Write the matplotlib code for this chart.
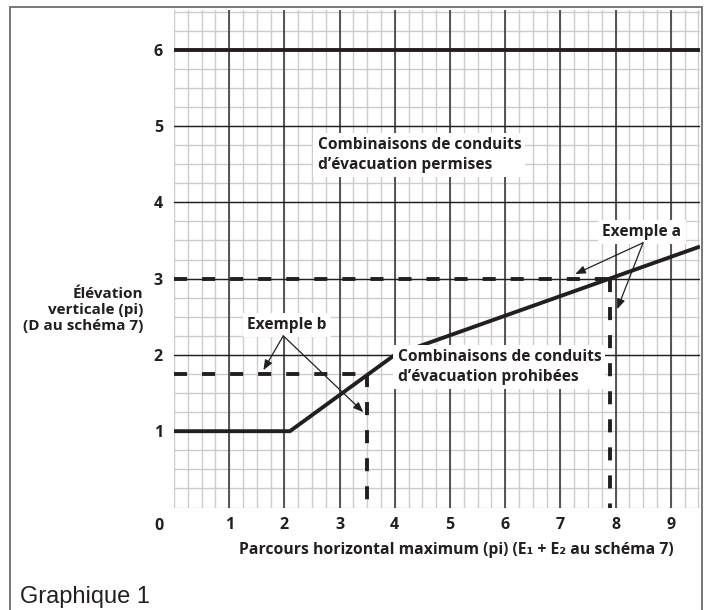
import matplotlib.pyplot as plt
from matplotlib.patches import Rectangle

plt.rcParams['font.family'] = ['Open Sans', 'DejaVu Sans']
plt.rcParams['lines.scale_dashes'] = False

# courbe limite (parcours horizontal -> élévation verticale)
courbe_x = [0, 2.1, 4, 9.53]
courbe_y = [1, 1, 2, 3.42]
limite_haute = 6

# exemples
exemple_a = (7.9, 3.0)
exemple_b = (3.5, 1.75)

x_ticks = [1, 2, 3, 4, 5, 6, 7, 8, 9]
y_ticks = [1, 2, 3, 4, 5, 6]

encre = '#231f20'

fig = plt.figure(figsize=(7.04, 6.10), dpi=100)
ax = fig.add_axes([174 / 704, 102.5 / 610, 526 / 704, 497.5 / 610])
ax.set_xlim(0, 9.53)
ax.set_ylim(0, 6.52)

# quadrillage fin
for v in [i * 0.25 for i in range(0, 39)]:
    ax.axvline(v, color='#cccccc', lw=1.0, zorder=0)
for v in [i * 0.25 for i in range(0, 27)]:
    ax.axhline(v, color='#cccccc', lw=1.0, zorder=0)
# lignes principales
for v in x_ticks:
    ax.axvline(v, color='#3c3c3c', lw=1.2, zorder=1)
for v in [2, 3, 4, 5]:
    ax.axhline(v, color=encre, lw=1.0, zorder=1)

ax.axhline(limite_haute, color=encre, lw=2.8, zorder=3)
ax.plot(courbe_x, courbe_y, color=encre, lw=2.8, zorder=3, solid_capstyle='butt')

# lignes pointillées des exemples
dash = (9.4, 10.8)
for ex, ey in [exemple_a, exemple_b]:
    ax.plot([0, ex], [ey, ey], color=encre, lw=2.8, dashes=dash, zorder=2)
    ax.plot([ex, ex], [ey, 0], color=encre, lw=2.8, dashes=dash, zorder=2)

boite = dict(facecolor='white', edgecolor='none', pad=3)
txt = dict(color=encre, fontweight='bold', fontsize=11.2, zorder=5)

ax.text(2.6, 4.62, 'Combinaisons de conduits\nd’évacuation permises',
        ha='left', va='center', linespacing=1.28, bbox=boite, **txt)
ax.text(4.05, 1.84, 'Combinaisons de conduits\nd’évacuation prohibées',
        ha='left', va='center', linespacing=1.28, bbox=boite, **txt)
ax.text(7.76, 3.61, 'Exemple a', ha='left', va='center', bbox=boite, **txt)
ax.text(1.33, 2.39, 'Exemple b', ha='left', va='center', bbox=boite, **txt)

fleche = dict(arrowstyle='-|>,head_length=0.5,head_width=0.2', color=encre,
              lw=0.9, mutation_scale=12, shrinkA=0, shrinkB=0)
ax.annotate('', xy=(7.27, 3.06), xytext=(8.5, 3.47), arrowprops=fleche, zorder=6)
ax.annotate('', xy=(8.03, 2.6), xytext=(8.5, 3.47), arrowprops=fleche, zorder=6)
ax.annotate('', xy=(1.62, 1.8), xytext=(1.98, 2.25), arrowprops=fleche, zorder=6)
ax.annotate('', xy=(3.43, 1.25), xytext=(1.98, 2.25), arrowprops=fleche, zorder=6)

ax.set_xticks(x_ticks)
ax.set_yticks(y_ticks)
ax.tick_params(length=0, labelsize=11.5, labelcolor=encre)
ax.tick_params(axis='x', pad=7)
ax.tick_params(axis='y', pad=8)
for lab in ax.get_xticklabels() + ax.get_yticklabels():
    lab.set_fontweight('bold')
for s in ax.spines.values():
    s.set_visible(False)

fig.text(159 / 704, 1 - 526 / 610, '0', ha='center', va='center',
         fontsize=11.5, fontweight='bold', color=encre)
fig.text(143 / 704, 1 - 310 / 610, 'Élévation\nverticale (pi)\n(D au schéma 7)',
         ha='right', va='center', multialignment='right', linespacing=1.22,
         fontsize=11, fontweight='bold', color=encre)
fig.text(456 / 704, 1 - 550 / 610,
         'Parcours horizontal maximum (pi) (E₁ + E₂ au schéma 7)',
         ha='center', va='center', fontsize=11.3, fontweight='bold', color=encre)
fig.text(20 / 704, 1 - 603 / 610, 'Graphique 1', ha='left', va='baseline',
         fontsize=17, family='Liberation Sans', color=encre)

fig.patches.append(Rectangle((10 / 704, -0.01), 692 / 704, 1 - 7 / 610 + 0.01,
                             transform=fig.transFigure, fill=False,
                             edgecolor='#6d6d6d', lw=1.3))

fig.savefig('out.png', dpi=100)
